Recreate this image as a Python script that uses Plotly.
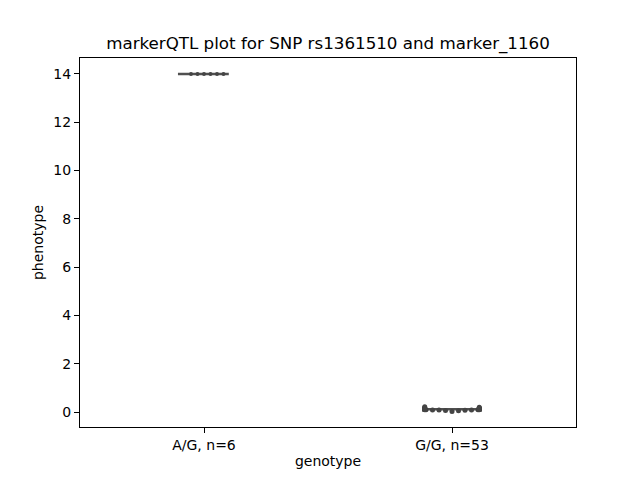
import plotly.graph_objects as go
import numpy as np

categories = ["A/G, n=6", "G/G, n=53"]
ag_values = [14.0, 14.0, 14.0, 14.0, 14.0, 14.0]
gg_values = [0.10, 0.12, 0.15, 0.08, 0.11, 0.13, 0.09, 0.14, 0.16, 0.10,
             0.12, 0.07, 0.11, 0.13, 0.18, 0.10, 0.09, 0.12, 0.14, 0.11,
             0.06, 0.13, 0.10, 0.15, 0.12, 0.08, 0.11, 0.20, 0.09, 0.13,
             0.12, 0.10, 0.14, 0.11, 0.05, 0.16, 0.12, 0.10, 0.13, 0.09,
             0.11, 0.22, 0.12, 0.14, 0.10, 0.08, 0.13, 0.11, 0.12, 0.02,
             0.15, 0.10, 0.17]
groups = [ag_values, gg_values]

Y_RANGE = [-0.62, 14.66]
X_RANGE = [-0.5, 1.5]
PLOT_W, PLOT_H = 496, 369
px_per_x = PLOT_W / (X_RANGE[1] - X_RANGE[0])
px_per_y = PLOT_H / (Y_RANGE[1] - Y_RANGE[0])
SPACING = 6.5
HALF_W = 0.11


def beeswarm(vals, center):
    order = np.argsort(vals, kind="stable")
    placed = []
    xs = [0.0] * len(vals)
    step = SPACING / 4
    limit = HALF_W * px_per_x
    for i in order:
        y = vals[i] * px_per_y
        best = None
        k = 0
        while best is None:
            for off in ([0.0] if k == 0 else [k * step, -k * step]):
                if all((off - px) ** 2 + (y - py) ** 2 >= SPACING ** 2 * 0.95 for px, py in placed):
                    best = off
                    break
            k += 1
            if best is None and k * step > limit:
                best = limit if len(placed) % 2 else -limit
        placed.append((best, y))
        xs[i] = center + best / px_per_x
    return xs


fig = go.Figure()
for ci, vals in enumerate(groups):
    med = float(np.median(vals))
    fig.add_trace(go.Scatter(x=[ci - 0.105, ci + 0.1], y=[med, med], mode="lines",
                             line=dict(color="#505050", width=2.5), showlegend=False,
                             hoverinfo="skip"))
    xs = beeswarm(vals, ci)
    fig.add_trace(go.Scatter(x=xs, y=vals, mode="markers",
                             marker=dict(color="#444444", size=5 if ci else 4, line=dict(width=0)),
                             showlegend=False))

FONT = "DejaVu Sans"
axis_common = dict(showline=True, linecolor="black", linewidth=1, mirror=True,
                   ticks="outside", ticklen=5, tickwidth=1, tickcolor="black",
                   showgrid=False, zeroline=False,
                   tickfont=dict(family=FONT, size=14, color="black"))
fig.update_layout(
    width=640, height=480,
    margin=dict(l=72, r=72, t=50, b=61),
    plot_bgcolor="white", paper_bgcolor="white",
    title=dict(text="markerQTL plot for SNP rs1361510 and marker_1160",
               x=0.5, xref="paper", xanchor="center", y=1 - 35 / 480, yanchor="middle",
               font=dict(family=FONT, size=16.7, color="black")),
    xaxis=dict(range=X_RANGE, tickmode="array", tickvals=[0, 1], ticktext=categories,
               title=dict(text="genotype", font=dict(family=FONT, size=14, color="black"),
                          standoff=4),
               **axis_common),
    yaxis=dict(range=Y_RANGE, tickmode="array", tickvals=list(range(0, 15, 2)),
               title=dict(text="phenotype", font=dict(family=FONT, size=14, color="black"),
                          standoff=6),
               **axis_common),
)
fig.write_html("out.html")
